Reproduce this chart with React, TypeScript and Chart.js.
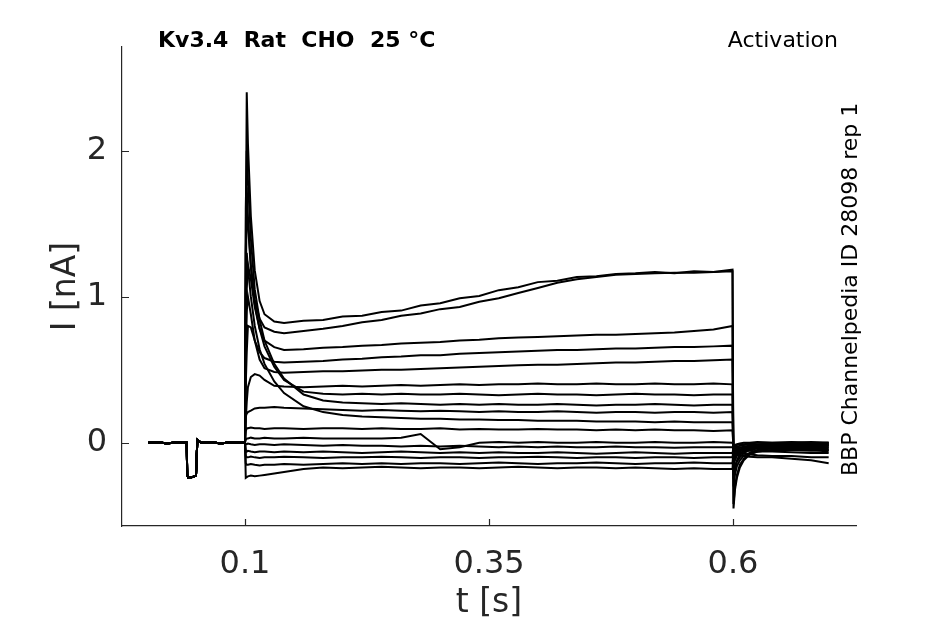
import React, { useEffect, useRef } from "react";
import Chart from "chart.js/auto";

// holding period before the test pulse (same for every sweep)
const holdTimes = [0.001, 0.01, 0.02, 0.03, 0.0403, 0.0408, 0.042, 0.046, 0.0498, 0.0505, 0.0512, 0.055, 0.065, 0.075, 0.085, 0.095, 0.1];
const holdCurrent = [0, 0.005, -0.005, 0.004, 0, -0.22, -0.24, -0.235, -0.225, -0.1, 0.02, 0.0, 0.005, -0.005, 0.004, 0.0, 0.0];

// test pulse
const stepTimes = [0.1008, 0.1018, 0.103, 0.106, 0.11, 0.115, 0.12, 0.13, 0.14, 0.16, 0.18, 0.2, 0.22, 0.24, 0.26, 0.28, 0.3, 0.32, 0.34, 0.36, 0.38, 0.4, 0.42, 0.44, 0.46, 0.48, 0.5, 0.52, 0.54, 0.56, 0.58, 0.5995];
const stepCurrents = [
  [1.3, 2.4, 2.05, 1.55, 1.18, 0.97, 0.88, 0.83, 0.82, 0.835, 0.84, 0.865, 0.87, 0.895, 0.905, 0.94, 0.955, 0.99, 1.005, 1.045, 1.065, 1.1, 1.11, 1.135, 1.14, 1.155, 1.16, 1.17, 1.16, 1.175, 1.17, 1.185],
  [1.0, 1.75, 1.55, 1.22, 0.98, 0.85, 0.79, 0.76, 0.75, 0.765, 0.78, 0.8, 0.825, 0.84, 0.87, 0.885, 0.915, 0.93, 0.965, 0.99, 1.025, 1.06, 1.095, 1.12, 1.135, 1.15, 1.155, 1.16, 1.165, 1.165, 1.17, 1.175],
  [0.7, 1.05, 1.22, 1.12, 0.93, 0.78, 0.7, 0.655, 0.635, 0.64, 0.65, 0.655, 0.665, 0.67, 0.68, 0.685, 0.69, 0.7, 0.705, 0.715, 0.72, 0.725, 0.73, 0.735, 0.74, 0.74, 0.745, 0.75, 0.755, 0.765, 0.775, 0.8],
  [0.4, 0.62, 0.8, 0.79, 0.7, 0.62, 0.58, 0.555, 0.55, 0.555, 0.56, 0.57, 0.575, 0.585, 0.59, 0.6, 0.6, 0.61, 0.615, 0.62, 0.625, 0.63, 0.635, 0.635, 0.64, 0.645, 0.645, 0.65, 0.655, 0.655, 0.66, 0.665],
  [0.6, 0.9, 1.0, 0.88, 0.7, 0.57, 0.51, 0.485, 0.48, 0.485, 0.49, 0.49, 0.495, 0.5, 0.5, 0.505, 0.51, 0.515, 0.52, 0.525, 0.53, 0.535, 0.535, 0.54, 0.545, 0.55, 0.55, 0.555, 0.56, 0.56, 0.565, 0.57],
  [0.15, 0.28, 0.38, 0.45, 0.47, 0.46, 0.43, 0.39, 0.385, 0.38, 0.385, 0.39, 0.385, 0.39, 0.395, 0.39, 0.395, 0.4, 0.395, 0.4, 0.4, 0.405, 0.4, 0.4, 0.405, 0.4, 0.4, 0.405, 0.4, 0.4, 0.405, 0.4],
  [1.3, 1.6, 1.5, 1.2, 0.95, 0.78, 0.66, 0.52, 0.43, 0.35, 0.335, 0.33, 0.335, 0.33, 0.335, 0.33, 0.33, 0.335, 0.33, 0.325, 0.33, 0.335, 0.33, 0.33, 0.325, 0.33, 0.335, 0.33, 0.33, 0.325, 0.33, 0.33],
  [1.6, 2.0, 1.8, 1.4, 1.05, 0.84, 0.7, 0.54, 0.44, 0.33, 0.29, 0.275, 0.27, 0.265, 0.27, 0.265, 0.26, 0.265, 0.26, 0.265, 0.26, 0.26, 0.265, 0.26, 0.255, 0.26, 0.26, 0.265, 0.26, 0.255, 0.26, 0.26],
  [0.18, 0.2, 0.21, 0.22, 0.235, 0.24, 0.24, 0.245, 0.24, 0.235, 0.23, 0.225, 0.22, 0.225, 0.22, 0.215, 0.22, 0.215, 0.21, 0.215, 0.21, 0.21, 0.215, 0.21, 0.205, 0.21, 0.21, 0.205, 0.21, 0.21, 0.205, 0.21],
  [1.0, 1.3, 1.2, 1.0, 0.8, 0.64, 0.54, 0.42, 0.34, 0.25, 0.21, 0.19, 0.18, 0.175, 0.17, 0.165, 0.165, 0.16, 0.16, 0.155, 0.155, 0.15, 0.15, 0.15, 0.145, 0.145, 0.145, 0.14, 0.145, 0.14, 0.14, 0.14],
  [0.08, 0.1, 0.1, 0.105, 0.1, 0.1, 0.095, 0.1, 0.1, 0.095, 0.1, 0.1, 0.095, 0.1, 0.095, 0.095, 0.1, 0.09, 0.095, 0.09, 0.09, 0.095, 0.09, 0.09, 0.085, 0.09, 0.085, 0.09, 0.085, 0.085, 0.08, 0.085],
  [0.02, 0.03, 0.03, 0.035, 0.03, 0.03, 0.035, 0.03, 0.03, 0.035, 0.03, 0.03, 0.03, 0.03, 0.035, 0.06, -0.045, -0.03, 0.0, 0.005, 0.0, 0.005, 0.0, 0.0, 0.005, 0.0, 0.0, 0.005, 0.0, 0.0, 0.005, 0.0],
  [-0.01, -0.01, -0.005, -0.01, -0.015, -0.01, -0.01, -0.015, -0.01, -0.015, -0.02, -0.015, -0.02, -0.02, -0.025, -0.02, -0.025, -0.02, -0.025, -0.03, -0.025, -0.03, -0.025, -0.03, -0.03, -0.025, -0.03, -0.03, -0.035, -0.03, -0.03, -0.03],
  [-0.05, -0.06, -0.055, -0.06, -0.065, -0.06, -0.06, -0.065, -0.06, -0.065, -0.06, -0.065, -0.07, -0.065, -0.06, -0.065, -0.07, -0.065, -0.07, -0.065, -0.07, -0.07, -0.065, -0.07, -0.075, -0.07, -0.065, -0.07, -0.075, -0.07, -0.07, -0.07],
  [-0.09, -0.1, -0.1, -0.095, -0.1, -0.105, -0.1, -0.1, -0.095, -0.1, -0.105, -0.1, -0.1, -0.095, -0.1, -0.105, -0.1, -0.1, -0.105, -0.1, -0.1, -0.095, -0.1, -0.105, -0.1, -0.1, -0.105, -0.1, -0.1, -0.105, -0.1, -0.1],
  [-0.14, -0.15, -0.15, -0.145, -0.15, -0.155, -0.15, -0.15, -0.145, -0.15, -0.145, -0.14, -0.145, -0.14, -0.145, -0.14, -0.14, -0.145, -0.14, -0.135, -0.14, -0.145, -0.14, -0.14, -0.135, -0.14, -0.145, -0.14, -0.14, -0.135, -0.14, -0.14],
  [-0.24, -0.235, -0.23, -0.225, -0.23, -0.225, -0.22, -0.21, -0.2, -0.18, -0.17, -0.175, -0.17, -0.165, -0.17, -0.175, -0.17, -0.17, -0.175, -0.17, -0.165, -0.17, -0.175, -0.17, -0.17, -0.175, -0.17, -0.175, -0.18, -0.175, -0.18, -0.18],
];

// tail currents after the pulse
const tailTimes = [0.6005, 0.602, 0.604, 0.607, 0.611, 0.617, 0.625, 0.64, 0.66, 0.68, 0.698];
const tailCurrents = [
  [-0.45, -0.32, -0.24, -0.17, -0.12, -0.08, -0.06, -0.05, -0.045, -0.05, -0.06],
  [-0.42, -0.3, -0.22, -0.15, -0.11, -0.075, -0.06, -0.05, -0.05, -0.055, -0.05],
  [-0.3, -0.22, -0.16, -0.12, -0.09, -0.07, -0.05, -0.04, -0.04, -0.045, -0.04],
  [-0.25, -0.18, -0.13, -0.1, -0.07, -0.05, -0.04, -0.035, -0.03, -0.03, -0.035],
  [-0.22, -0.16, -0.12, -0.08, -0.06, -0.045, -0.035, -0.03, -0.03, -0.025, -0.03],
  [-0.15, -0.12, -0.09, -0.07, -0.055, -0.04, -0.03, -0.025, -0.02, -0.025, -0.02],
  [-0.14, -0.1, -0.08, -0.06, -0.045, -0.035, -0.03, -0.02, -0.02, -0.015, -0.02],
  [-0.12, -0.09, -0.07, -0.05, -0.04, -0.03, -0.02, -0.02, -0.015, -0.02, -0.015],
  [-0.1, -0.08, -0.06, -0.045, -0.035, -0.025, -0.02, -0.015, -0.01, -0.015, -0.01],
  [-0.08, -0.06, -0.045, -0.035, -0.025, -0.02, -0.015, -0.01, -0.01, -0.005, -0.01],
  [-0.05, -0.04, -0.03, -0.02, -0.015, -0.01, -0.01, -0.005, 0, -0.005, 0],
  [-0.02, -0.015, -0.01, -0.005, 0, 0, 0.005, 0, 0, 0.005, 0],
  [-0.02, -0.02, -0.015, -0.01, -0.01, -0.005, 0, 0, 0.005, 0, 0],
  [-0.03, -0.025, -0.03, -0.03, -0.035, -0.035, -0.04, -0.04, -0.045, -0.04, -0.05],
  [-0.04, -0.04, -0.045, -0.05, -0.05, -0.055, -0.06, -0.06, -0.065, -0.07, -0.07],
  [-0.05, -0.05, -0.06, -0.07, -0.075, -0.08, -0.085, -0.09, -0.09, -0.1, -0.1],
  [-0.06, -0.07, -0.08, -0.085, -0.09, -0.095, -0.1, -0.1, -0.11, -0.12, -0.14],
];

const xTicks = [0.1, 0.35, 0.6];
const yTicks = [0, 1, 2];

const titleText = "Kv3.4  Rat  CHO  25 °C";
const protocolText = "Activation";
const sourceText = "BBP Channelpedia ID 28098 rep 1";

const axisColor = "#262626";
const fontFamily = "'DejaVu Sans', sans-serif";

const textPlugin = {
  id: "figureText",
  afterDraw(chart: any) {
    const { ctx, chartArea, scales } = chart;
    ctx.save();
    // inward tick marks
    ctx.strokeStyle = axisColor;
    ctx.lineWidth = 1.2;
    ctx.beginPath();
    xTicks.forEach((v) => {
      const px = Math.round(scales.x.getPixelForValue(v)) + 0.5;
      ctx.moveTo(px, chartArea.bottom);
      ctx.lineTo(px, chartArea.bottom - 7);
    });
    yTicks.forEach((v) => {
      const py = Math.round(scales.y.getPixelForValue(v)) + 0.5;
      ctx.moveTo(chartArea.left, py);
      ctx.lineTo(chartArea.left + 7, py);
    });
    ctx.stroke();

    ctx.fillStyle = "#000";
    ctx.textBaseline = "alphabetic";
    ctx.font = `bold 22px ${fontFamily}`;
    ctx.textAlign = "left";
    ctx.fillText(titleText, 158, 47);
    ctx.font = `22px ${fontFamily}`;
    ctx.textAlign = "right";
    ctx.fillText(protocolText, 838, 47);
    ctx.translate(857, 476);
    ctx.rotate(-Math.PI / 2);
    ctx.textAlign = "left";
    ctx.fillText(sourceText, 0, 0);
    ctx.restore();
  },
};

const App: React.FC = () => {
  const chartRef = useRef<HTMLCanvasElement>(null);
  const chartInstance = useRef<Chart | null>(null);

  useEffect(() => {
    document.body.style.margin = "0";
    if (!chartRef.current) return;

    const datasets = stepCurrents.map((step, i) => {
      const points = holdTimes.map((t, k) => ({ x: t, y: holdCurrent[k] }));
      stepTimes.forEach((t, k) => points.push({ x: t, y: step[k] }));
      tailTimes.forEach((t, k) => points.push({ x: t, y: tailCurrents[i][k] }));
      return {
        label: `sweep ${i + 1}`,
        data: points,
        borderColor: "#000",
        borderWidth: 2,
        pointRadius: 0,
        tension: 0,
        fill: false,
      };
    });

    chartInstance.current = new Chart(chartRef.current, {
      type: "line",
      data: { datasets },
      options: {
        animation: false,
        responsive: false,
        layout: { padding: { top: 47, right: 89, left: 0, bottom: 0 } },
        plugins: {
          legend: { display: false },
          tooltip: { enabled: false },
        },
        scales: {
          x: {
            type: "linear",
            min: -0.026,
            max: 0.726,
            afterBuildTicks: (scale: any) => {
              scale.ticks = xTicks.map((v) => ({ value: v }));
            },
            afterFit: (scale: any) => {
              scale.height = 98;
            },
            grid: { display: true, drawOnChartArea: false, drawTicks: false },
            border: { display: true, color: axisColor, width: 1.2 },
            ticks: {
              color: axisColor,
              font: { family: fontFamily, size: 32 },
              padding: 19,
              maxRotation: 0,
              callback: (v: any) => String(v),
            },
            title: {
              display: true,
              text: "t [s]",
              color: axisColor,
              font: { family: fontFamily, size: 33 },
              padding: { top: 1, bottom: 1 },
            },
          },
          y: {
            type: "linear",
            min: -0.57,
            max: 2.71,
            afterBuildTicks: (scale: any) => {
              scale.ticks = yTicks.map((v) => ({ value: v }));
            },
            afterFit: (scale: any) => {
              scale.width = 122;
            },
            grid: { display: true, drawOnChartArea: false, drawTicks: false },
            border: { display: true, color: axisColor, width: 1.2 },
            ticks: {
              color: axisColor,
              font: { family: fontFamily, size: 32 },
              padding: 15,
              callback: (v: any) => String(v),
            },
            title: {
              display: true,
              text: "I [nA]",
              color: axisColor,
              font: { family: fontFamily, size: 33 },
              padding: { top: 47, bottom: 0 },
            },
          },
        },
      },
      plugins: [textPlugin],
    });

    return () => {
      if (chartInstance.current) {
        chartInstance.current.destroy();
        chartInstance.current = null;
      }
    };
  }, []);

  return (
    <div style={{ width: 945, height: 624, background: "#fff" }}>
      <canvas ref={chartRef} width={945} height={624} style={{ display: "block", width: "945px", height: "624px" }} />
    </div>
  );
};

export default App;
